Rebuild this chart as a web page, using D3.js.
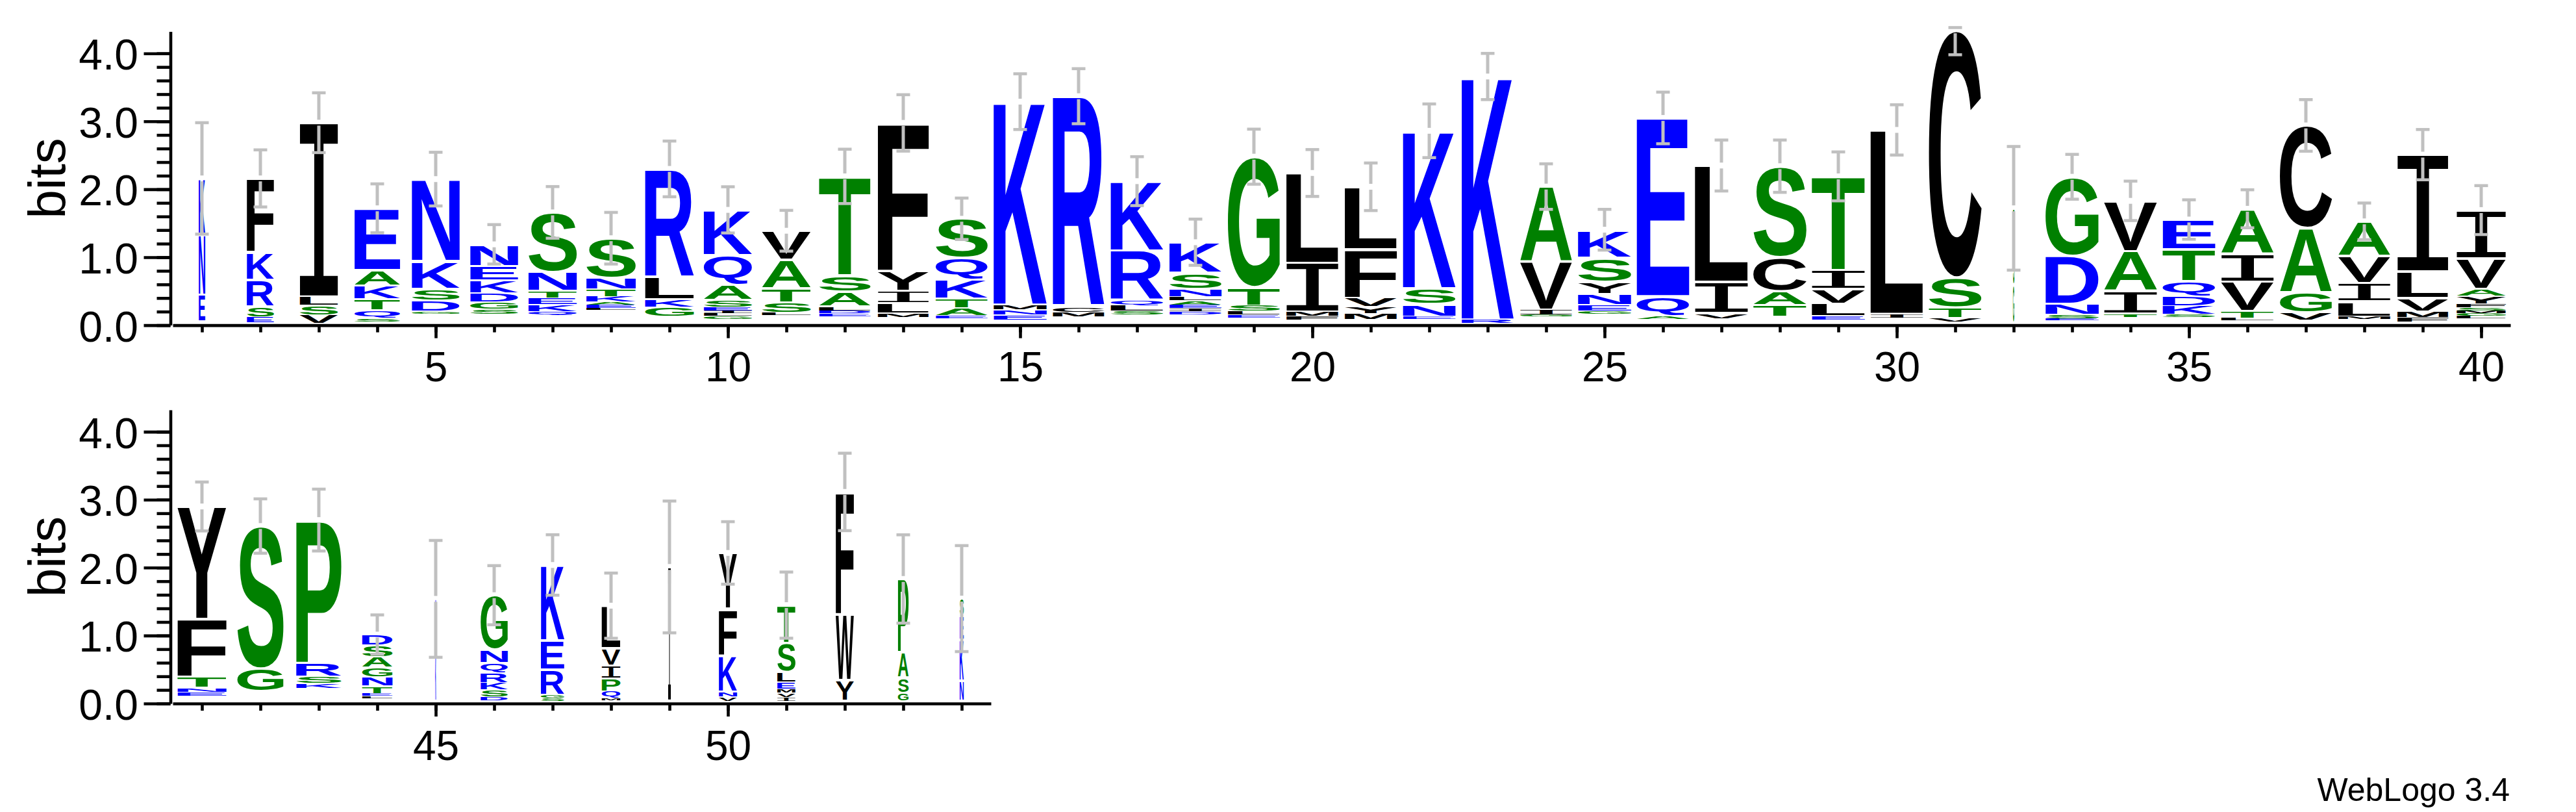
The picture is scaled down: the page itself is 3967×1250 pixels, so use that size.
<!DOCTYPE html>
<html>
<head>
<meta charset="utf-8">
<script src="https://cdn.jsdelivr.net/npm/d3@7"></script>
<style>
  body { margin: 0; background: #fff; }
  svg { display: block; }
</style>
</head>
<body>
<svg id="logo"></svg>
<script>
// sequence positions 1..54, letters listed bottom -> top of each stack
const positions = d3.range(1, 55);

const stacks = [
  "ENK", "ESRKF", "VSLI", "SQTKAE", "GDSKN", "SGDKEN", "QKETNS", "LEAKTNS", "GKLR", "GLIESAQK",
  "LSTAV", "EDLAST", "MLIYF", "EATKQS", "ENMK", "MCR", "SLQRK", "DIEALNSK", "ELSTG", "FMIL",
  "MYVFL", "ENSK", "RK", "GIVA", "GENYSK", "AQE", "VIL", "TACS", "ELVIT", "IL",
  "VTSC", "GST", "ESNDG", "TIAV", "SKDQTE", "LTVIA", "VGAC", "MLIVA", "FMVLI", "LGMSFYAVI",
  "ENTFY", "GS", "KSRP", "LETNGASD", "KN", "DSKRQNG", "SGREK", "MQPIVL", "I", "VNKFY",
  "IVMELST", "YWF", "GSAP", "NKES",
];

// bits per letter, same order as stacks
const heights = [
  [0.40, 0.89, 0.82],
  [0.08, 0.15, 0.40, 0.41, 1.08],
  [0.13, 0.14, 0.13, 2.56],
  [0.05, 0.12, 0.16, 0.20, 0.23, 0.91],
  [0.03, 0.16, 0.17, 0.41, 1.21],
  [0.08, 0.10, 0.13, 0.19, 0.21, 0.32],
  [0.06, 0.10, 0.10, 0.10, 0.28, 0.88],
  [0.03, 0.05, 0.04, 0.08, 0.11, 0.17, 0.58],
  [0.14, 0.115, 0.325, 1.595],
  [0.05, 0.04, 0.04, 0.05, 0.10, 0.233, 0.434, 0.665],
  [0.037, 0.143, 0.208, 0.42, 0.432],
  [0.04, 0.04, 0.062, 0.222, 0.236, 1.46],
  [0.062, 0.143, 0.177, 0.297, 2.18],
  [0.035, 0.119, 0.134, 0.28, 0.324, 0.574],
  [0.075, 0.078, 0.073, 2.99],
  [0.065, 0.08, 3.10],
  [0.061, 0.079, 0.075, 0.736, 1.02],
  [0.04, 0.05, 0.05, 0.06, 0.06, 0.11, 0.236, 0.455],
  [0.045, 0.051, 0.082, 0.272, 1.922],
  [0.05, 0.067, 0.717, 1.326],
  [0.08, 0.103, 0.125, 0.72, 0.919],
  [0.038, 0.181, 0.232, 2.32],
  [0.05, 3.58],
  [0.031, 0.065, 0.713, 1.106],
  [0.05, 0.086, 0.163, 0.178, 0.355, 0.413],
  [0.046, 0.289, 2.625],
  [0.076, 0.461, 1.713],
  [0.167, 0.208, 0.502, 1.338],
  [0.058, 0.181, 0.214, 0.284, 1.379],
  [0.055, 2.711],
  [0.061, 0.147, 0.445, 3.64],
  [0.56, 0.56, 0.56],
  [0.034, 0.051, 0.161, 0.713, 1.158],
  [0.048, 0.332, 0.59, 0.74],
  [0.037, 0.128, 0.139, 0.224, 0.464, 0.443],
  [0.036, 0.10, 0.436, 0.417, 0.658],
  [0.11, 0.296, 0.951, 1.51],
  [0.04, 0.224, 0.27, 0.40, 0.51],
  [0.073, 0.088, 0.19, 0.395, 1.72],
  [0.04, 0.04, 0.04, 0.04, 0.06, 0.115, 0.10, 0.45, 0.714],
  [0.06, 0.063, 0.157, 0.854, 1.657],
  [0.334, 2.10],
  [0.075, 0.096, 0.201, 2.106],
  [0.034, 0.038, 0.106, 0.136, 0.14, 0.154, 0.174, 0.157],
  [0.75, 0.75],
  [0.055, 0.102, 0.109, 0.144, 0.143, 0.195, 0.805],
  [0.045, 0.047, 0.372, 0.431, 1.11],
  [0.031, 0.109, 0.184, 0.188, 0.26, 0.627],
  [1.97],
  [0.062, 0.078, 0.536, 0.683, 0.823],
  [0.06, 0.06, 0.058, 0.106, 0.146, 0.427, 0.557],
  [0.311, 0.966, 1.803],
  [0.113, 0.229, 0.375, 1.082],
  [0.3, 0.6, 0.35, 0.26],
];

// bits of letters too small to see, sitting under each stack
const baseGap = [
  0.05, 0.04, 0.02, 0.05, 0.17, 0.16, 0.14, 0.22, 0.125, 0.085,
  0.15, 0.13, 0.118, 0.10, 0.074, 0.125, 0.149, 0.16, 0.108, 0.08,
  0.09, 0.09, 0.03, 0.125, 0.16, 0.09, 0.10, 0.125, 0.074, 0.108,
  0.047, 0.04, 0.067, 0.12, 0.12, 0.066, 0.073, 0.084, 0.044, 0.095,
  0.109, 0.178, 0.222, 0.075, 0.04, 0.041, 0.034, 0.041, 0.04, 0.034,
  0.034, 0.034, 0.034, 0.034,
];

// error bar half-length (bits)
const errors = [
  0.82, 0.42, 0.44, 0.36, 0.395, 0.29, 0.38, 0.38, 0.41, 0.34,
  0.30, 0.40, 0.415, 0.305, 0.41, 0.405, 0.36, 0.34, 0.405, 0.345,
  0.35, 0.395, 0.34, 0.335, 0.30, 0.38, 0.375, 0.385, 0.36, 0.37,
  0.36, 0.91, 0.33, 0.29, 0.29, 0.28, 0.38, 0.27, 0.37, 0.36,
  0.36, 0.40, 0.455, 0.29, 0.86, 0.435, 0.445, 0.48, 0.97, 0.46,
  0.487, 0.57, 0.65, 0.78,
];
const errorCeiling = 4.38;

// fraction of non-gap symbols -> stack width
const occupancy = [
  0.12, 0.51, 0.72, 0.86, 0.90, 0.90, 0.91, 0.93, 0.92, 0.91,
  0.92, 0.97, 0.96, 0.98, 1.0, 0.97, 0.99, 0.98, 0.98, 0.98,
  0.98, 0.99, 0.98, 0.98, 1.0, 0.99, 1.0, 1.0, 1.0, 0.99,
  0.99, 0.025, 1.0, 1.0, 0.99, 0.99, 0.98, 0.98, 0.96, 0.93,
  0.92, 0.87, 0.85, 0.57, 0.02, 0.51, 0.44, 0.35, 0.05, 0.34,
  0.34, 0.34, 0.2, 0.075,
];

const yMajorTicks = [0, 1, 2, 3, 4];

const W = 3967;
const H = 1250;
const rows = [
  { first: 1, last: 40, baseY: 500.6 },
  { first: 41, last: 54, baseY: 1083 },
];
const plotLeft = 266;
const step = 90;
const bitPx = 104.6;
const maxBits = Math.log2(20);
const stackWidth = step * 0.91;
const axisFont = "'Liberation Sans', Arial, Helvetica, sans-serif";

const colorOf = (ch) =>
  "RKDENQ".includes(ch) ? "#0000ff" : "SGHTAP".includes(ch) ? "#008000" : "#000000";

// serifed I like WebLogo's, everything else a bold sans
const glyphStyle = (ch) =>
  ch === "I"
    ? { family: "'DejaVu Sans Mono'", weight: "normal" }
    : { family: "'Liberation Sans'", weight: "bold" };

const ctx = document.createElement("canvas").getContext("2d");
const inkCache = {};
function ink(ch) {
  if (!inkCache[ch]) {
    const s = glyphStyle(ch);
    ctx.font = `${s.weight} 200px ${s.family}`;
    const m = ctx.measureText(ch);
    inkCache[ch] = {
      left: m.actualBoundingBoxLeft,
      right: m.actualBoundingBoxRight,
      ascent: m.actualBoundingBoxAscent,
      descent: m.actualBoundingBoxDescent,
    };
  }
  return inkCache[ch];
}

// stretch a glyph so its ink fills the box
function drawGlyph(parent, ch, x0, y0, w, h) {
  if (h <= 0.2 || w <= 0) return;
  const pad = Math.min(2, h * 0.08);
  const b = ink(ch);
  const s = glyphStyle(ch);
  const sx = w / (b.left + b.right);
  const sy = (h - 2 * pad) / (b.ascent + b.descent);
  parent
    .append("text")
    .attr("font-family", s.family)
    .attr("font-weight", s.weight)
    .attr("font-size", 200)
    .attr("fill", colorOf(ch))
    .attr("transform", `translate(${x0},${y0 + pad}) scale(${sx},${sy}) translate(${b.left},${b.ascent})`)
    .text(ch);
}

const svg = d3
  .select("#logo")
  .attr("width", W)
  .attr("height", H)
  .attr("viewBox", [0, 0, W, H]);

svg.append("rect").attr("width", W).attr("height", H).attr("fill", "#fff");

rows.forEach((row) => {
  const n = row.last - row.first + 1;
  const x = d3
    .scaleLinear()
    .domain([row.first - 0.5, row.last + 0.5])
    .range([plotLeft, plotLeft + n * step]);
  const y = d3
    .scaleLinear()
    .domain([0, maxBits])
    .range([row.baseY, row.baseY - maxBits * bitPx]);

  const g = svg.append("g");
  const letters = g.append("g");
  const bars = g.append("g").attr("stroke", "#c0c0c0").attr("fill", "none");

  positions
    .filter((p) => p >= row.first && p <= row.last)
    .forEach((p) => {
      const i = p - 1;
      const w = stackWidth * occupancy[i];
      const x0 = x(p) - w / 2;
      let level = baseGap[i];
      stacks[i].split("").forEach((ch, j) => {
        const h = heights[i][j];
        const yTop = y(level + h);
        const yBot = y(level);
        drawGlyph(letters, ch, x0, yTop, w, yBot - yTop);
        level += h;
      });

      const top = level;
      const hi = Math.min(top + errors[i], errorCeiling);
      const lo = top - errors[i];
      const gap = 4.5;
      if (y(hi) < y(top) - gap) {
        bars.append("line")
          .attr("x1", x(p)).attr("x2", x(p))
          .attr("y1", y(hi)).attr("y2", y(top) - gap)
          .attr("stroke-width", 5);
      }
      bars.append("line")
        .attr("x1", x(p)).attr("x2", x(p))
        .attr("y1", y(top) + gap).attr("y2", y(lo))
        .attr("stroke-width", 5);
      [hi, lo].forEach((v) => {
        bars.append("line")
          .attr("x1", x(p) - 10.5).attr("x2", x(p) + 10.5)
          .attr("y1", y(v)).attr("y2", y(v))
          .attr("stroke-width", 4.6);
      });
    });

  // y axis
  const yAxis = g.append("g").attr("transform", "translate(262.5,0)");
  yAxis
    .append("g")
    .call(
      d3.axisLeft(y)
        .tickValues(d3.range(0, 21).map((k) => k / 5))
        .tickSize(21)
        .tickSizeOuter(0)
        .tickFormat(""),
    );
  yAxis
    .append("g")
    .call(
      d3.axisLeft(y)
        .tickValues(yMajorTicks)
        .tickSize(41)
        .tickSizeOuter(0)
        .tickPadding(8.5)
        .tickFormat(d3.format(".1f")),
    )
    .call((a) => a.select(".domain").remove());
  yAxis.selectAll("line, path").attr("stroke", "#000").attr("stroke-width", 4.6);
  yAxis
    .selectAll("text")
    .attr("font-family", axisFont)
    .attr("font-size", 66)
    .attr("fill", "#000")
    .attr("dy", "0.37em");

  // x axis
  const xAxis = g.append("g").attr("transform", `translate(0,${row.baseY})`);
  const rowPositions = positions.filter((p) => p >= row.first && p <= row.last);
  xAxis
    .append("g")
    .call(d3.axisBottom(x).tickValues(rowPositions).tickSize(11).tickSizeOuter(0).tickFormat(""));
  xAxis
    .append("g")
    .call(
      d3.axisBottom(x)
        .tickValues(rowPositions.filter((p) => p % 5 === 0))
        .tickSize(20)
        .tickSizeOuter(0)
        .tickPadding(21.4)
        .tickFormat(d3.format("d")),
    )
    .call((a) => a.select(".domain").remove());
  xAxis.selectAll("line, path").attr("stroke", "#000").attr("stroke-width", 4.6);
  xAxis
    .selectAll("text")
    .attr("font-family", axisFont)
    .attr("font-size", 64)
    .attr("fill", "#000");

  g.append("text")
    .attr("transform", `translate(100,${y(maxBits / 2)}) rotate(-90)`)
    .attr("text-anchor", "middle")
    .attr("font-family", axisFont)
    .attr("font-size", 80)
    .attr("fill", "#000")
    .text("bits");
});

svg
  .append("text")
  .attr("x", 3865)
  .attr("y", 1233)
  .attr("text-anchor", "end")
  .attr("font-family", axisFont)
  .attr("font-size", 50)
  .attr("fill", "#000")
  .text("WebLogo 3.4");
</script>
</body>
</html>
